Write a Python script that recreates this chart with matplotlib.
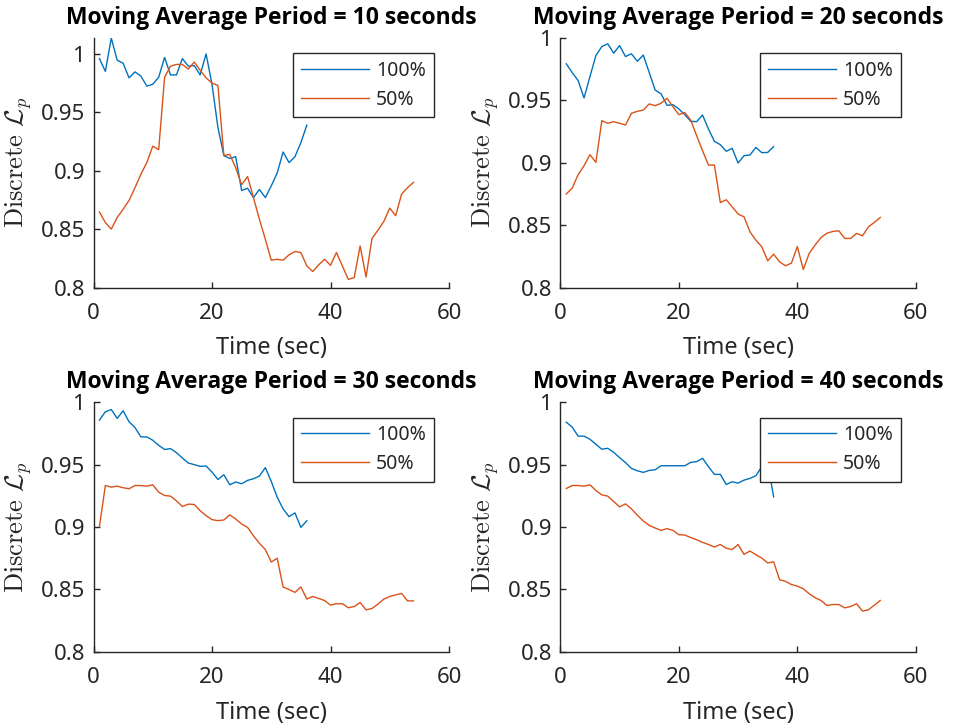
import numpy as np
import matplotlib
matplotlib.use('Agg')
import matplotlib.pyplot as plt

plt.rcParams['font.family'] = ['Noto Sans', 'DejaVu Sans']
plt.rcParams['mathtext.fontset'] = 'cm'

# time axis (seconds)
t100 = np.arange(1, 37)
t50 = np.arange(1, 55)

# moving average period = 10 s
ma10_100 = [0.996, 0.985, 1.0135, 0.9946, 0.992, 0.9795, 0.9846, 0.981, 0.9724, 0.974,
            0.980, 0.997, 0.982, 0.982, 0.996, 0.9895, 0.990, 0.982, 1.000, 0.974,
            0.937, 0.913, 0.9105, 0.912, 0.883, 0.885, 0.877, 0.884, 0.877, 0.887,
            0.898, 0.916, 0.907, 0.912, 0.924, 0.939]
ma10_50 = [0.8647, 0.8556, 0.850, 0.860, 0.867, 0.8746, 0.8855, 0.897, 0.907, 0.921,
           0.918, 0.980, 0.9895, 0.991, 0.991, 0.987, 0.993, 0.986, 0.9795, 0.975,
           0.973, 0.913, 0.914, 0.9025, 0.888, 0.895, 0.877, 0.8584, 0.8413, 0.8234,
           0.8242, 0.8234, 0.828, 0.8308, 0.830, 0.8185, 0.8137, 0.8194, 0.8242, 0.819,
           0.830, 0.8185, 0.807, 0.8085, 0.8356, 0.809, 0.842, 0.849, 0.8566, 0.868,
           0.8615, 0.880, 0.8855, 0.890]

# moving average period = 20 s
ma20_100 = [0.979, 0.972, 0.9656, 0.9517, 0.9688, 0.9856, 0.9928, 0.995, 0.9875, 0.9936,
            0.9848, 0.987, 0.981, 0.986, 0.972, 0.958, 0.955, 0.9458, 0.9463, 0.9429,
            0.9383, 0.933, 0.9327, 0.938, 0.9268, 0.917, 0.9143, 0.909, 0.9114, 0.8996,
            0.9055, 0.906, 0.9121, 0.9079, 0.9081, 0.9127]
ma20_50 = [0.8748, 0.8796, 0.8903, 0.8975, 0.9063, 0.9001, 0.9335, 0.9314, 0.9327, 0.9314,
           0.930, 0.9394, 0.941, 0.942, 0.9469, 0.9455, 0.9474, 0.9514, 0.9447, 0.9383,
           0.940, 0.934, 0.9215, 0.9095, 0.898, 0.898, 0.868, 0.8702, 0.8646, 0.8588,
           0.8566, 0.8446, 0.8379, 0.8326, 0.8214, 0.8267, 0.8206, 0.8174, 0.8195, 0.8328,
           0.8144, 0.8273, 0.834, 0.840, 0.8435, 0.8449, 0.8454, 0.8393, 0.8393, 0.8433,
           0.8414, 0.8486, 0.8521, 0.8561]

# moving average period = 30 s
ma30_100 = [0.9855, 0.9922, 0.994, 0.9869, 0.993, 0.9842, 0.9796, 0.9721, 0.9721, 0.9694,
            0.9654, 0.962, 0.9627, 0.9595, 0.9552, 0.9512, 0.9499, 0.9485, 0.9488, 0.944,
            0.938, 0.9418, 0.9338, 0.936, 0.9346, 0.9373, 0.9386, 0.9408, 0.9475, 0.9365,
            0.9239, 0.9145, 0.9083, 0.9113, 0.8997, 0.905]
ma30_50 = [0.9003, 0.9332, 0.9319, 0.9327, 0.9314, 0.9306, 0.9332, 0.9332, 0.9327, 0.9338,
           0.9279, 0.9252, 0.9247, 0.9209, 0.9164, 0.9183, 0.918, 0.9131, 0.9091, 0.9059,
           0.9051, 0.9056, 0.9097, 0.9064, 0.9024, 0.8997, 0.893, 0.887, 0.882, 0.872,
           0.875, 0.852, 0.850, 0.8477, 0.852, 0.8424, 0.8444, 0.8428, 0.8412, 0.8375,
           0.8386, 0.8386, 0.8354, 0.8364, 0.8396, 0.8337, 0.8348, 0.8383, 0.8423, 0.8444,
           0.8457, 0.8468, 0.8409, 0.8409]

# moving average period = 40 s
ma40_100 = [0.9839, 0.9799, 0.9727, 0.9727, 0.9702, 0.9662, 0.9622, 0.963, 0.9598, 0.9555,
            0.9515, 0.9469, 0.945, 0.9437, 0.9453, 0.9458, 0.949, 0.949, 0.949, 0.949,
            0.949, 0.9517, 0.9523, 0.955, 0.9483, 0.9421, 0.9421, 0.934, 0.9362, 0.9351,
            0.9375, 0.9389, 0.941, 0.9483, 0.951, 0.9241]
ma40_50 = [0.9308, 0.9332, 0.9332, 0.9327, 0.9338, 0.9292, 0.9257, 0.9247, 0.9204, 0.9161,
           0.9185, 0.9145, 0.9094, 0.9048, 0.9013, 0.8992, 0.8973, 0.8987, 0.8973, 0.8938,
           0.8936, 0.8916, 0.8898, 0.8877, 0.886, 0.884, 0.886, 0.883, 0.882, 0.886,
           0.8781, 0.8808, 0.8778, 0.8752, 0.8712, 0.8722, 0.8578, 0.8565, 0.854, 0.8527,
           0.8506, 0.8466, 0.8434, 0.8412, 0.8372, 0.838, 0.838, 0.8353, 0.8364, 0.8386,
           0.8327, 0.8338, 0.8375, 0.8412]

periods = [10, 20, 30, 40]
series = [(ma10_100, ma10_50), (ma20_100, ma20_50),
          (ma30_100, ma30_50), (ma40_100, ma40_50)]
ytops = [1.014, 1.0, 1.0, 1.0]

yticks = [0.8, 0.85, 0.9, 0.95, 1.0]
ytick_labels = ['0.8', '0.85', '0.9', '0.95', '1']
xticks = [0, 20, 40, 60]

blue = '#0072BD'
orange = '#D95319'
axcol = '#262626'

fig = plt.figure(figsize=(9.59, 7.25), dpi=100)
boxes = [(0.0975, 0.6034), (0.5843, 0.6034), (0.0975, 0.1007), (0.5843, 0.1007)]

for k in range(4):
    ax = fig.add_axes([boxes[k][0], boxes[k][1], 0.3707, 0.3448])
    s100, s50 = series[k]
    ax.plot(t100, s100, color=blue, lw=1.0, label='100%')
    ax.plot(t50, s50, color=orange, lw=1.0, label='50%')
    ax.set_xlim(0, 60)
    ax.set_ylim(0.8, ytops[k])
    ax.set_xticks(xticks)
    ax.set_yticks(yticks)
    ax.set_yticklabels(ytick_labels)
    for side in ['top', 'right']:
        ax.spines[side].set_visible(False)
    for side in ['left', 'bottom']:
        ax.spines[side].set_color(axcol)
        ax.spines[side].set_linewidth(1.0)
    ax.tick_params(direction='in', length=4, width=1.0, colors=axcol,
                   labelsize=16)
    ax.tick_params(axis='x', pad=11)
    ax.tick_params(axis='y', pad=6)
    ax.set_xlabel('Time (sec)', fontsize=17, color=axcol, labelpad=9)
    ax.set_ylabel(r'$\mathrm{Discrete}\ \mathcal{L}_p$', fontsize=19, color=axcol,
                  labelpad=5)
    ax.set_title('Moving Average Period = %d seconds' % periods[k],
                 fontsize=16.5, fontweight='bold', family=['Open Sans', 'DejaVu Sans'],
                 pad=10)
    leg = ax.legend(loc='upper right', bbox_to_anchor=(0.957, 0.938),
                    borderaxespad=0, fancybox=False, framealpha=1,
                    edgecolor=axcol, fontsize=14, handlelength=3.5,
                    handletextpad=0.35, labelspacing=0.45, borderpad=0.4)
    leg.get_frame().set_linewidth(1.0)
    for txt in leg.get_texts():
        txt.set_color(axcol)

plt.savefig('out.png', dpi=100)
